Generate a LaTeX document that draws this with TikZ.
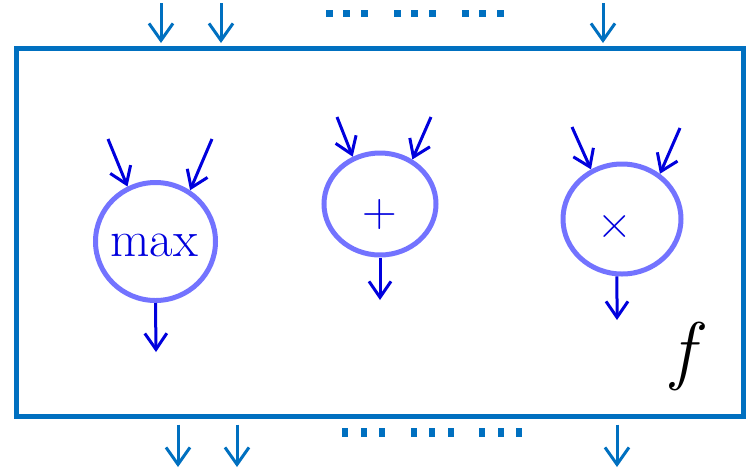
\documentclass[tikz,border=0pt]{standalone}
\usepackage{fontspec}
\usetikzlibrary{arrows.meta,shapes.geometric}
\definecolor{framecol}{HTML}{0070C0}
\definecolor{ringcol}{HTML}{7373FF}
\definecolor{opcol}{HTML}{0000DD}

\begin{document}
\begin{tikzpicture}[
  x=1pt, y=-1pt,
  frame/.style ={draw=framecol, line width=5pt, inner sep=0pt,
                 minimum width=727pt, minimum height=368pt},
  ring/.style  ={draw=ringcol, line width=5pt, ellipse, inner sep=0pt},
  optext/.style={text=opcol, inner sep=0pt,
                 font=\fontsize{48}{48}\selectfont},
  outarr/.style={draw=framecol, line width=3pt,
                 -{Straight Barb[length=17pt,width=24pt,line width=3pt]}},
  inarr/.style ={draw=opcol, line width=3pt,
                 -{Straight Barb[length=16pt,width=22pt,line width=3pt]}}
]
\useasboundingbox (0,0) rectangle (750,475);

% the function block
\node[frame] (block) at (379.5,232) {};
\node[inner sep=0pt, font=\itshape\fontsize{76}{76}\selectfont] (fname)
     at (683,356) {f};

% operators
\node[ring, minimum width=120pt, minimum height=118pt] (maxop) at (155.5,241.5) {};
\node[optext, font=\fontsize{51}{51}\selectfont] (maxlbl) at (154,245.5) {max};
\node[ring, minimum width=112pt, minimum height=102pt] (plusop) at (380,204) {};
\node[optext] (pluslbl) at (380,215) {+};
\node[ring, minimum width=118pt, minimum height=110pt] (timesop) at (622,219) {};
\node[optext] (timeslbl) at (615,227) {×};

% free ends
\coordinate (maxinl)   at (108,139);
\coordinate (maxinr)   at (212,139);
\coordinate (maxout)   at (156,352);
\coordinate (plusinl)  at (337,117);
\coordinate (plusinr)  at (431,117);
\coordinate (plusout)  at (380,300);
\coordinate (timesinl) at (572,127);
\coordinate (timesinr) at (680,128);
\coordinate (timesout) at (617,320);

\draw[inarr] (maxinl) -- (maxop.117);
\draw[inarr] (maxinr) -- (maxop.56);
\draw[inarr] (maxop.south) -- (maxout);
\draw[inarr] (plusinl) -- (plusop.120);
\draw[inarr] (plusinr) -- (plusop.54);
\draw[inarr] (plusop.south) -- (plusout);
\draw[inarr] (timesinl) -- (timesop.122);
\draw[inarr] (timesinr) -- (timesop.50);
\draw[inarr] (timesop.265) -- (timesout);

% block inputs and outputs
\coordinate (in1)  at (161,3);
\coordinate (in2)  at (221,3);
\coordinate (in3)  at (603,3);
\coordinate (out1) at (178,467);
\coordinate (out2) at (237,467);
\coordinate (out3) at (617,467);

\foreach \p in {in1,in2,in3}
  \draw[outarr, shorten >=2.5pt] (\p) -- (\p |- block.north);
\foreach \p in {out1,out2,out3}
  \draw[outarr, shorten <=6pt] (\p |- block.south) -- (\p);

% ellipses
\foreach \g in {0,68,136}
  \foreach \d in {0,17.5,35}
    \fill[framecol] (325.5+\g+\d,9.5) rectangle ++(7,7);
\foreach \g in {0,68.5,137}
  \foreach \d in {0,18.5,37}
    \fill[framecol] (342+\g+\d,427.5) rectangle ++(6,9);

\end{tikzpicture}
\end{document}
